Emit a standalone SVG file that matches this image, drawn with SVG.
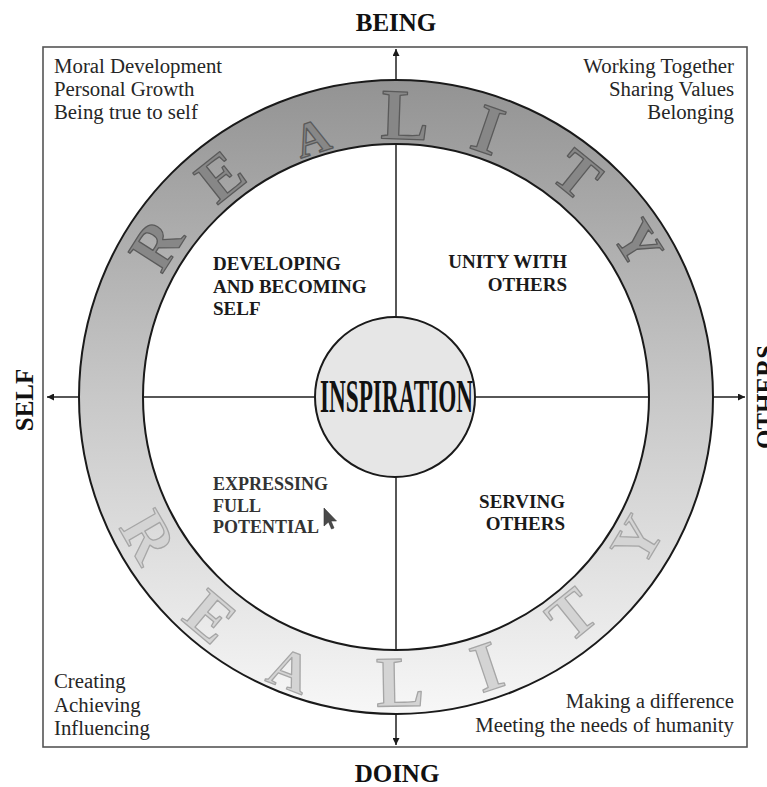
<svg xmlns="http://www.w3.org/2000/svg" width="767" height="787" viewBox="0 0 767 787">
<defs>
<linearGradient id="ringGrad" gradientUnits="userSpaceOnUse" x1="0" y1="80" x2="0" y2="714">
<stop offset="0" stop-color="#939393"/>
<stop offset="0.5" stop-color="#c8c8c8"/>
<stop offset="1" stop-color="#f7f7f7"/>
</linearGradient>
<marker id="arrow" viewBox="0 0 10 10" refX="10" refY="5" markerWidth="8" markerHeight="7" markerUnits="userSpaceOnUse" orient="auto">
<path d="M0,0 L10,5 L0,10 Z" fill="#1a1a1a"/>
</marker>
<style>
.serif{font-family:"Liberation Serif","Times New Roman",serif;}
.axis{font-family:"Liberation Serif",serif;font-weight:bold;font-size:25px;fill:#111;}
.quad{font-family:"Liberation Serif",serif;font-weight:bold;font-size:19px;fill:#1a1a1a;}
.quad2{font-family:"Liberation Serif",serif;font-weight:bold;font-size:18px;fill:#333;}
.corner{font-family:"Liberation Serif",serif;font-size:20.8px;fill:#262626;}
.topL{font-family:"Liberation Serif",serif;font-weight:bold;fill:#878787;stroke:#5a5a5a;stroke-width:1.3;stroke-linejoin:round;text-anchor:middle;}
.botL{font-family:"Liberation Serif",serif;font-weight:bold;fill:#d4d4d4;stroke:#a6a6a6;stroke-width:1.3;stroke-linejoin:round;text-anchor:middle;}
.conn{stroke:#1f1f1f;stroke-width:1.5;fill:none;marker-end:url(#arrow);}
</style>
</defs>
<rect width="767" height="787" fill="#ffffff"/>
<g id="frame">
<rect x="43" y="47" width="704" height="700" fill="none" stroke="#555" stroke-width="1.6"/>
</g>
<g id="connectors">
<line class="conn" x1="396" y1="397" x2="396" y2="49"/>
<line class="conn" x1="396" y1="397" x2="396" y2="745"/>
<line class="conn" x1="396" y1="397" x2="47" y2="397"/>
<line class="conn" x1="396" y1="397" x2="745" y2="397"/>
</g>
<g id="ring">
<path d="M79,397 a317,317 0 1,0 634,0 a317,317 0 1,0 -634,0 Z M143,397 a253,253 0 1,0 506,0 a253,253 0 1,0 -506,0 Z" fill="url(#ringGrad)" fill-rule="evenodd" stroke="#1a1a1a" stroke-width="2"/>
<g id="reality-top">
<text class="topL" font-size="62" transform="translate(157,245) rotate(-57.5)" y="20">R</text>
<text class="topL" font-size="62" transform="translate(221,177) rotate(-38.5)" y="20">E</text>
<text class="topL" font-size="48" transform="translate(312,138) rotate(-18)" y="16">A</text>
<text class="topL" font-size="72" transform="translate(405,115) rotate(2)" y="24">L</text>
<text class="topL" font-size="70" transform="translate(488,130) rotate(19)" y="23">I</text>
<text class="topL" font-size="61" transform="translate(577,175) rotate(39)" y="20">T</text>
<text class="topL" font-size="57" transform="translate(638,243) rotate(57.5)" y="19">Y</text>
</g>
<g id="reality-bottom">
<text class="botL" font-size="64" transform="translate(148,537) rotate(60)" y="21">R</text>
<text class="botL" font-size="64" transform="translate(210,617) rotate(40)" y="21">E</text>
<text class="botL" font-size="56" transform="translate(290,670) rotate(21)" y="19">A</text>
<text class="botL" font-size="72" transform="translate(400,682) rotate(-1)" y="24">L</text>
<text class="botL" font-size="70" transform="translate(487,667) rotate(-18.6)" y="23">I</text>
<text class="botL" font-size="64" transform="translate(572,615) rotate(-39)" y="21">T</text>
<text class="botL" font-size="60" transform="translate(637,540) rotate(-59)" y="20">Y</text>
</g>
</g>
<g id="inspiration">
<circle cx="395" cy="397" r="80" fill="#e6e6e6" stroke="#1a1a1a" stroke-width="2"/>
<text class="serif" x="320" y="412" font-size="46" font-weight="bold" fill="#111" textLength="153" lengthAdjust="spacingAndGlyphs">INSPIRATION</text>
</g>
<g id="q-developing">
<text class="quad" x="213" y="270">DEVELOPING</text>
<text class="quad" x="213" y="293">AND BECOMING</text>
<text class="quad" x="213" y="315">SELF</text>
</g>
<g id="q-unity">
<text class="quad" x="567" y="268" text-anchor="end">UNITY WITH</text>
<text class="quad" x="567" y="291" text-anchor="end">OTHERS</text>
</g>
<g id="q-expressing">
<text class="quad2" x="213" y="490">EXPRESSING</text>
<text class="quad2" x="213" y="512">FULL</text>
<text class="quad2" x="213" y="533">POTENTIAL</text>
</g>
<g id="q-serving">
<text class="quad" x="565" y="508" text-anchor="end">SERVING</text>
<text class="quad" x="565" y="530" text-anchor="end">OTHERS</text>
</g>
<g id="cursor">
<path d="M324,508 L324,526 L328.5,522 L331.5,529 L334,528 L331,521 L336.5,521 Z" fill="#4a4a4a" stroke="#333" stroke-width="0.6"/>
</g>
<g id="corner-tl">
<text class="corner" x="54" y="73">Moral Development</text>
<text class="corner" x="54" y="96">Personal Growth</text>
<text class="corner" x="54" y="119">Being true to self</text>
</g>
<g id="corner-tr">
<text class="corner" x="734" y="73" text-anchor="end">Working Together</text>
<text class="corner" x="734" y="96" text-anchor="end">Sharing Values</text>
<text class="corner" x="734" y="119" text-anchor="end">Belonging</text>
</g>
<g id="corner-bl">
<text class="corner" x="54" y="688">Creating</text>
<text class="corner" x="54" y="712">Achieving</text>
<text class="corner" x="54" y="735">Influencing</text>
</g>
<g id="corner-br">
<text class="corner" x="734" y="708" text-anchor="end">Making a difference</text>
<text class="corner" x="734" y="732" text-anchor="end">Meeting the needs of humanity</text>
</g>
<g id="axis-labels">
<text class="axis" x="396" y="31" text-anchor="middle">BEING</text>
<text class="axis" x="397" y="782" text-anchor="middle">DOING</text>
<text class="axis" transform="translate(33,400) rotate(-90)" text-anchor="middle">SELF</text>
<text class="axis" transform="translate(774,397) rotate(-90)" text-anchor="middle">OTHERS</text>
</g>
</svg>
